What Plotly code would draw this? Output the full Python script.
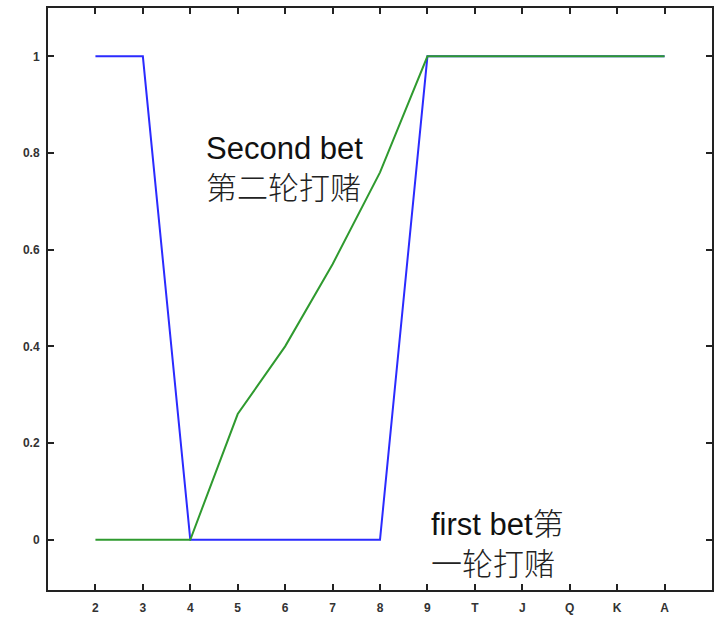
import plotly.graph_objects as go

# Card ranks along the horizontal axis
ranks = ["2", "3", "4", "5", "6", "7", "8", "9", "T", "J", "Q", "K", "A"]

# Betting probability per rank
first_bet = [1, 1, 0, 0, 0, 0, 0, 1, 1, 1, 1, 1, 1]
second_bet = [0, 0, 0, 0.26, 0.40, 0.57, 0.76, 1, 1, 1, 1, 1, 1]

y_ticks = [0, 0.2, 0.4, 0.6, 0.8, 1]
y_tick_text = ["0", "0.2", "0.4", "0.6", "0.8", "1"]

idx = list(range(len(ranks)))

fig = go.Figure()
fig.add_trace(go.Scatter(x=idx, y=first_bet, mode="lines",
                         line=dict(color="#2b2bff", width=2), name="first bet"))
fig.add_trace(go.Scatter(x=idx, y=second_bet, mode="lines",
                         line=dict(color="#2f9a2f", width=2), name="second bet"))

label_font = dict(family="Liberation Sans, Arial, Noto Sans CJK SC", size=31, color="#111111")
cjk_span = "<span style='font-family:Noto Sans CJK SC;font-weight:300;color:#222222'>{}</span>"

# Two-line series labels
labels = [
    (2.32, 0.766, "Second bet<br>" + cjk_span.format("第二轮打赌")),
    (7.05, -0.003, "first bet" + cjk_span.format("第") + "<br>" + cjk_span.format("一轮打赌")),
]
for lx, ly, txt in labels:
    fig.add_annotation(x=lx, y=ly, text=txt, showarrow=False, borderpad=0,
                       xanchor="left", yanchor="middle", align="left", font=label_font)

axis_common = dict(showline=True, linecolor="#222222", linewidth=2, mirror="ticks",
                   ticks="inside", ticklen=6, tickwidth=2, tickcolor="#222222",
                   showgrid=False, zeroline=False,
                   tickfont=dict(family="Liberation Sans, Arial", size=12,
                                 color="#333333", weight="bold"))

fig.update_xaxes(range=[-1, 13], tickmode="array", tickvals=idx, ticktext=ranks,
                 ticklabelstandoff=6, **axis_common)
fig.update_yaxes(range=[-0.104, 1.1], tickmode="array", tickvals=y_ticks,
                 ticktext=y_tick_text, ticklabelstandoff=4, **axis_common)

fig.update_layout(width=718, height=621, showlegend=False,
                  plot_bgcolor="white", paper_bgcolor="white",
                  margin=dict(l=48, r=4, t=8, b=31))

fig.write_html("out.html")
